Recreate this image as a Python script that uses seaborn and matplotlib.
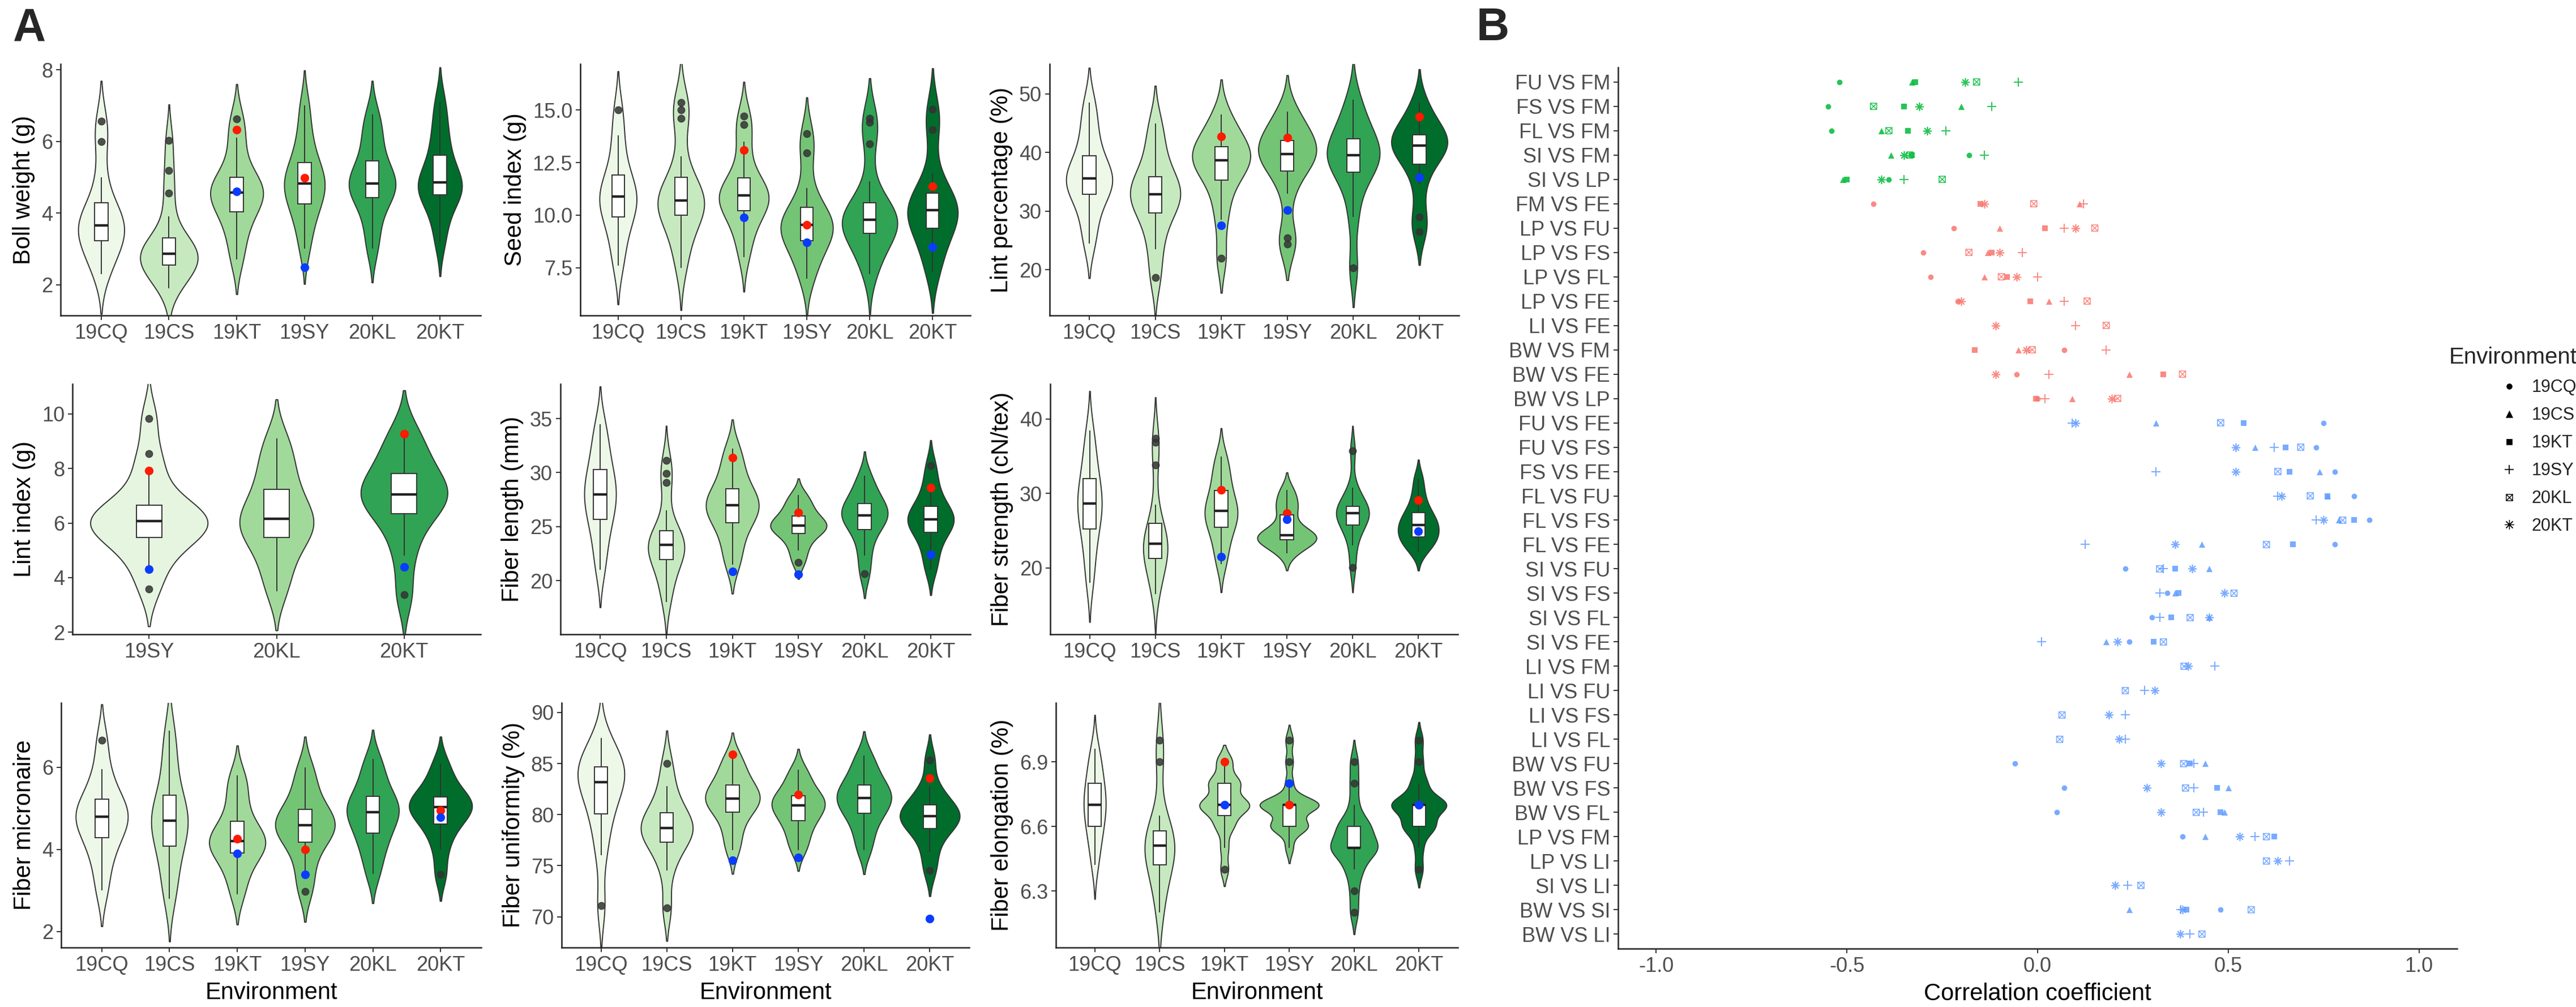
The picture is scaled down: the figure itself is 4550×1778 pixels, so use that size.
import warnings
warnings.filterwarnings("ignore")
import numpy as np
import pandas as pd
import matplotlib
matplotlib.use("Agg")
import matplotlib.pyplot as plt
import seaborn as sns
from matplotlib.path import Path
from matplotlib.markers import MarkerStyle
from matplotlib.lines import Line2D

nan = np.nan
ENVS = ["19CQ", "19CS", "19KT", "19SY", "20KL", "20KT"]
LI_ENVS = ["19SY", "20KL", "20KT"]
GREENS6 = ["#EDF8E9", "#C7E9C0", "#A1D99B", "#74C476", "#31A354", "#006D2C"]
GREENS3 = ["#E5F5E0", "#A1D99B", "#31A354"]

# ---------------- Panel A data ----------------
boll_weight = {
    "19CQ": [2.3, 2.7, 3.0, 3.23, 3.4, 3.55, 3.65, 3.85, 4.05, 4.29, 5.0, 6.0, 6.57],
    "19CS": [1.9, 2.1, 2.3, 2.45, 2.55, 2.65, 2.75, 2.82, 2.87, 2.95, 3.05, 3.18, 3.31, 3.9, 4.55, 5.18, 6.03],
    "19KT": [2.7, 3.3, 3.75, 4.04, 4.3, 4.45, 4.57, 4.7, 4.85, 4.99, 5.5, 6.1, 6.63],
    "19SY": [3.0, 3.6, 4.0, 4.25, 4.5, 4.68, 4.82, 4.98, 5.18, 5.41, 5.8, 6.3, 7.0],
    "20KL": [3.0, 3.6, 4.1, 4.43, 4.6, 4.73, 4.83, 4.98, 5.2, 5.46, 5.9, 6.3, 6.75],
    "20KT": [3.2, 3.8, 4.25, 4.5, 4.62, 4.72, 4.85, 5.0, 5.25, 5.62, 6.0, 6.5, 7.1],
}
seed_index = {
    "19CQ": [7.6, 8.6, 9.4, 9.91, 10.3, 10.6, 10.88, 11.15, 11.5, 11.91, 12.8, 13.8, 15.0],
    "19CS": [7.5, 8.3, 9.0, 9.6, 10.0, 10.2, 10.4, 10.55, 10.69, 10.85, 11.05, 11.4, 11.79, 12.8, 14.6, 15.0, 15.35],
    "19KT": [8.0, 8.8, 9.4, 9.9, 10.21, 10.45, 10.62, 10.8, 10.93, 11.08, 11.25, 11.5, 11.78, 12.6, 13.5, 14.3, 14.7],
    "19SY": [7.0, 7.8, 8.4, 8.8, 9.1, 9.35, 9.55, 9.75, 10.0, 10.37, 11.3, 12.95, 13.86],
    "20KL": [7.2, 7.9, 8.4, 8.85, 9.15, 9.35, 9.5, 9.65, 9.79, 9.95, 10.15, 10.35, 10.59, 11.6, 13.4, 14.4, 14.6],
    "20KT": [7.3, 8.2, 8.9, 9.38, 9.75, 10.0, 10.24, 10.5, 10.75, 11.04, 12.0, 14.06, 15.03],
}
lint_percentage = {
    "19CQ": [24.5, 28.0, 31.0, 32.9, 34.0, 34.9, 35.6, 36.4, 37.7, 39.4, 42.0, 45.0, 48.5],
    "19CS": [18.7, 23.5, 27.0, 29.7, 31.0, 32.0, 32.9, 33.8, 34.8, 35.9, 38.5, 41.5, 45.0],
    "19KT": [22.0, 28.5, 32.5, 35.3, 37.0, 38.0, 38.7, 39.4, 40.2, 41.0, 42.5, 44.0, 46.5],
    "19SY": [24.4, 25.4, 33.0, 36.8, 38.0, 39.0, 39.7, 40.4, 41.2, 42.05, 43.5, 45.0, 47.0],
    "20KL": [20.3, 29.0, 34.0, 36.6, 37.8, 38.7, 39.5, 40.2, 41.0, 42.3, 44.0, 46.0, 49.0],
    "20KT": [26.5, 29.0, 34.5, 38.0, 39.4, 40.5, 41.2, 41.8, 42.4, 43.0, 44.2, 46.0, 48.5],
}
lint_index = {
    "19SY": [3.58, 4.3, 4.9, 5.25, 5.47, 5.7, 5.85, 5.97, 6.08, 6.2, 6.32, 6.48, 6.66, 7.2, 7.9, 8.55, 9.84],
    "20KL": [3.5, 4.3, 4.95, 5.47, 5.7, 5.92, 6.15, 6.4, 6.8, 7.23, 7.8, 8.4, 9.1],
    "20KT": [3.37, 4.8, 5.7, 6.34, 6.6, 6.85, 7.05, 7.25, 7.5, 7.82, 8.3, 8.8, 9.4],
}
fiber_length = {
    "19CQ": [21.0, 23.0, 24.6, 25.67, 26.6, 27.3, 28.0, 28.7, 29.4, 30.26, 31.5, 32.8, 34.5],
    "19CS": [18.0, 19.3, 20.4, 21.3, 21.94, 22.4, 22.8, 23.05, 23.3, 23.6, 23.9, 24.2, 24.6, 26.5, 29.1, 29.9, 31.1],
    "19KT": [21.5, 23.0, 24.4, 25.36, 26.0, 26.5, 26.97, 27.4, 27.9, 28.5, 29.6, 30.8, 32.2],
    "19SY": [21.7, 22.8, 23.6, 24.35, 24.65, 24.85, 25.07, 25.3, 25.6, 26.0, 26.6, 27.2, 27.9],
    "20KL": [20.62, 22.3, 23.7, 24.74, 25.3, 25.7, 26.04, 26.4, 26.75, 27.16, 27.8, 28.6, 29.7],
    "20KT": [21.0, 22.4, 23.6, 24.45, 25.0, 25.35, 25.65, 25.95, 26.4, 26.9, 27.8, 29.0, 30.65],
}
fiber_strength = {
    "19CQ": [18.0, 21.0, 23.3, 25.25, 26.5, 27.6, 28.65, 29.6, 30.7, 32.0, 33.8, 35.8, 38.5],
    "19CS": [16.5, 18.0, 19.3, 20.4, 21.26, 21.9, 22.5, 22.9, 23.29, 23.7, 24.2, 25.0, 26.0, 28.5, 33.8, 36.9, 37.4],
    "19KT": [20.5, 22.5, 24.2, 25.48, 26.3, 27.0, 27.7, 28.3, 29.2, 30.4, 31.8, 33.3, 35.0],
    "19SY": [22.0, 22.9, 23.5, 23.8, 24.0, 24.2, 24.4, 24.7, 25.5, 27.16, 28.2, 29.2, 30.5],
    "20KL": [20.1, 23.0, 24.8, 25.76, 26.4, 26.9, 27.4, 27.7, 28.0, 28.3, 29.3, 30.8, 35.7],
    "20KT": [22.2, 23.0, 23.7, 24.2, 24.6, 25.2, 25.76, 26.2, 26.8, 27.44, 28.5, 30.0, 32.0],
}
fiber_micronaire = {
    "19CQ": [3.0, 3.6, 4.0, 4.29, 4.5, 4.65, 4.8, 4.93, 5.05, 5.22, 5.55, 5.95, 6.66],
    "19CS": [2.8, 3.3, 3.75, 4.08, 4.35, 4.55, 4.7, 4.88, 5.07, 5.32, 5.8, 6.3, 6.9],
    "19KT": [2.9, 3.35, 3.65, 3.91, 4.03, 4.12, 4.21, 4.32, 4.48, 4.69, 5.05, 5.45, 5.8],
    "19SY": [2.98, 3.45, 3.9, 4.18, 4.35, 4.48, 4.59, 4.7, 4.82, 4.97, 5.25, 5.6, 6.0],
    "20KL": [3.4, 3.85, 4.15, 4.39, 4.6, 4.78, 4.91, 5.02, 5.14, 5.29, 5.55, 5.85, 6.2],
    "20KT": [3.39, 4.0, 4.4, 4.62, 4.8, 4.93, 5.03, 5.1, 5.18, 5.28, 5.48, 5.75, 6.1],
}
fiber_uniformity = {
    "19CQ": [71.06, 76.0, 78.5, 80.05, 81.3, 82.4, 83.16, 83.7, 84.2, 84.65, 85.3, 86.2, 87.5],
    "19CS": [70.85, 74.5, 76.3, 77.3, 77.8, 78.3, 78.68, 79.1, 79.6, 80.16, 81.3, 82.8, 85.0],
    "19KT": [76.5, 78.0, 79.3, 80.26, 80.8, 81.2, 81.58, 81.95, 82.4, 82.9, 83.7, 84.6, 85.7],
    "19SY": [76.5, 77.6, 78.6, 79.4, 79.9, 80.4, 80.9, 81.2, 81.5, 81.85, 82.6, 83.4, 84.4],
    "20KL": [76.5, 78.0, 79.2, 80.1, 80.6, 81.1, 81.6, 82.0, 82.4, 82.9, 83.7, 84.6, 85.8],
    "20KT": [74.5, 76.3, 77.8, 78.63, 79.1, 79.5, 79.84, 80.15, 80.5, 80.96, 81.8, 82.8, 85.35],
}
fiber_elongation = {
    "19CQ": [6.42, 6.5, 6.56, 6.6, 6.64, 6.68, 6.7, 6.73, 6.77, 6.8, 6.85, 6.9, 6.96],
    "19CS": [6.2, 6.3, 6.38, 6.42, 6.46, 6.49, 6.51, 6.53, 6.56, 6.58, 6.65, 6.9, 7.0],
    "19KT": [6.4, 6.5, 6.6, 6.6, 6.65, 6.7, 6.7, 6.7, 6.7, 6.7, 6.7, 6.8, 6.8, 6.8, 6.8, 6.9, 6.9],
    "19SY": [6.5, 6.6, 6.6, 6.6, 6.6, 6.6, 6.7, 6.7, 6.7, 6.7, 6.7, 6.7, 6.7, 6.7, 6.8, 6.9, 7.0],
    "20KL": [6.2, 6.3, 6.4, 6.4, 6.5, 6.5, 6.5, 6.5, 6.5, 6.5, 6.6, 6.6, 6.6, 6.6, 6.7, 6.8, 6.9],
    "20KT": [6.4, 6.5, 6.6, 6.6, 6.6, 6.6, 6.7, 6.7, 6.7, 6.7, 6.7, 6.7, 6.7, 6.8, 6.8, 6.9, 7.0],
}

# highlighted genotypes (red / blue points), one value per environment
red_bw = [nan, nan, 6.33, 4.98, nan, nan]
blue_bw = [nan, nan, 4.6, 2.48, nan, nan]
red_si = [nan, nan, 13.1, 9.54, nan, 11.38]
blue_si = [nan, nan, 9.9, 8.72, nan, 8.49]
red_lp = [nan, nan, 42.7, 42.5, nan, 46.1]
blue_lp = [nan, nan, 27.6, 30.2, nan, 35.8]
red_li = [7.93, nan, 9.27]
blue_li = [4.3, nan, 4.39]
red_fl = [nan, nan, 31.4, 26.3, nan, 28.6]
blue_fl = [nan, nan, 20.87, 20.6, nan, 22.4]
red_fs = [nan, nan, 30.45, 27.4, nan, 29.1]
blue_fs = [nan, nan, 21.5, 26.5, nan, 24.9]
red_fm = [nan, nan, 4.26, 3.99, nan, 4.95]
blue_fm = [nan, nan, 3.9, 3.39, nan, 4.79]
red_fu = [nan, nan, 85.9, 81.96, nan, 83.55]
blue_fu = [nan, nan, 75.5, 75.8, nan, 69.8]
red_fe = [nan, nan, 6.9, 6.7, nan, 6.7]
blue_fe = [nan, nan, 6.7, 6.8, nan, 6.7]

# ---------------- Panel B data ----------------
PAIRS = ["FU VS FM", "FS VS FM", "FL VS FM", "SI VS FM", "SI VS LP", "FM VS FE",
         "LP VS FU", "LP VS FS", "LP VS FL", "LP VS FE", "LI VS FE", "BW VS FM",
         "BW VS FE", "BW VS LP", "FU VS FE", "FU VS FS", "FS VS FE", "FL VS FU",
         "FL VS FS", "FL VS FE", "SI VS FU", "SI VS FS", "SI VS FL", "SI VS FE",
         "LI VS FM", "LI VS FU", "LI VS FS", "LI VS FL", "BW VS FU", "BW VS FS",
         "BW VS FL", "LP VS FM", "LP VS LI", "SI VS LI", "BW VS SI", "BW VS LI"]
PAIR_GROUP = ["g"] * 5 + ["r"] * 9 + ["b"] * 22
r_19CQ = [-0.52, -0.55, -0.54, -0.18, -0.39, -0.43, -0.22, -0.30, -0.28, -0.21, nan, 0.07,
          -0.055, 0.00, 0.75, 0.73, 0.78, 0.83, 0.87, 0.78, 0.23, 0.34, 0.30, 0.24,
          nan, nan, nan, nan, -0.06, 0.07, 0.05, 0.38, nan, nan, 0.48, nan]
r_19CS = [-0.33, -0.20, -0.41, -0.385, -0.51, 0.11, -0.10, -0.13, -0.14, 0.03, nan, -0.05,
          0.24, 0.09, 0.31, 0.57, 0.74, 0.76, 0.79, 0.43, 0.45, 0.36, 0.45, 0.18,
          nan, nan, nan, nan, 0.44, 0.50, 0.49, 0.44, nan, nan, 0.24, nan]
r_19KT = [-0.32, -0.35, -0.34, -0.33, -0.50, -0.15, 0.02, -0.12, -0.08, -0.02, nan, -0.165,
          0.33, -0.005, 0.54, 0.65, 0.66, 0.76, 0.83, 0.67, 0.36, 0.37, 0.35, 0.305,
          nan, nan, nan, nan, 0.40, 0.47, 0.48, 0.62, nan, nan, 0.39, nan]
r_19SY = [-0.05, -0.12, -0.24, -0.14, -0.35, 0.12, 0.07, -0.04, 0.00, 0.07, 0.10, 0.18,
          0.03, 0.02, 0.09, 0.62, 0.31, 0.63, 0.73, 0.125, 0.33, 0.32, 0.32, 0.01,
          0.465, 0.28, 0.23, 0.23, 0.41, 0.41, 0.435, 0.57, 0.66, 0.236, 0.375, 0.40]
r_20KL = [-0.16, -0.43, -0.39, -0.335, -0.25, -0.01, 0.15, -0.18, -0.095, 0.13, 0.18, -0.014,
          0.38, 0.21, 0.48, 0.69, 0.63, 0.715, 0.80, 0.60, 0.32, 0.515, 0.40, 0.33,
          0.384, 0.23, 0.064, 0.058, 0.383, 0.388, 0.416, 0.60, 0.60, 0.271, 0.56, 0.431]
r_20KT = [-0.19, -0.31, -0.29, -0.35, -0.41, -0.14, 0.10, -0.10, -0.055, -0.20, -0.11, -0.03,
          -0.11, 0.195, 0.10, 0.52, 0.52, 0.64, 0.75, 0.36, 0.405, 0.49, 0.45, 0.21,
          0.395, 0.307, 0.187, 0.214, 0.324, 0.286, 0.324, 0.53, 0.63, 0.203, 0.38, 0.374]
GROUP_COLORS = {"g": "#00BA38", "r": "#F8766D", "b": "#619CFF"}

# ---------------- style ----------------
sns.set_theme(style="white")
plt.rcParams["font.family"] = ["Liberation Sans", "DejaVu Sans"]
plt.rcParams["axes.unicode_minus"] = False

W, H = 4550, 1778
fig = plt.figure(figsize=(W / 100, H / 100), dpi=100)
fig.patch.set_facecolor("white")

TICK_FS = 26
TITLE_FS = 30
LINE = "#333333"


def rect(l, t, r, b):
    return [l / W, 1 - b / H, (r - l) / W, (b - t) / H]


def style_axis(ax):
    sns.despine(ax=ax)
    for s in ("left", "bottom"):
        ax.spines[s].set_linewidth(1.8)
        ax.spines[s].set_color("#222222")
    ax.tick_params(axis="both", which="major", length=6, width=1.4, color=LINE,
                   labelsize=TICK_FS, labelcolor="#4D4D4D", pad=4, bottom=True, left=True)
    ax.grid(False)


def draw_panel(ax, data, envs, colors, widths, bws, red, blue, yticks, ylim, ylabel, fmt, xlabel):
    for env, col, w, bw in zip(envs, colors, widths, bws):
        vals = data[env]
        sns.violinplot(x=[env] * len(vals), y=vals, order=envs, color=col, saturation=1,
                       width=w, density_norm="width", bw_method=bw, cut=2, inner=None,
                       linewidth=1.4, linecolor=LINE, ax=ax)
    df = pd.DataFrame({"env": [e for e in envs for _ in data[e]],
                       "val": [v for e in envs for v in data[e]]})
    sns.boxplot(data=df, x="env", y="val", order=envs, width=0.2, color="white",
                saturation=1, linecolor=LINE, linewidth=1.4, fliersize=9, showcaps=False,
                flierprops=dict(marker="o", markerfacecolor="#333333",
                                markeredgecolor="#333333", alpha=0.85),
                medianprops=dict(linewidth=3.2, color="#222222"), ax=ax)
    for vals, col in ((red, "#FF1A00"), (blue, "#0A3CFF")):
        d = pd.DataFrame({"env": envs, "val": vals}).dropna()
        sns.stripplot(data=d, x="env", y="val", order=envs, jitter=False, color=col,
                      size=11, linewidth=0, ax=ax, zorder=6)
    ax.set_xlim(-0.6, len(envs) - 0.4)
    ax.set_ylim(*ylim)
    ax.set_yticks(yticks)
    ax.set_yticklabels([fmt.format(v) for v in yticks])
    ax.set_ylabel(ylabel, fontsize=TITLE_FS, color="black", labelpad=8)
    ax.set_xlabel(xlabel, fontsize=TITLE_FS, color="black", labelpad=8)
    style_axis(ax)


bw6 = [0.45] * 6
bw3 = [0.45] * 3
panels = [
    (rect(107, 113, 849, 557), boll_weight, ENVS, GREENS6, [0.68, 0.85, 0.78, 0.6, 0.69, 0.65], bw6,
     red_bw, blue_bw, [2, 4, 6, 8], (1.14, 8.16), "Boll weight (g)", "{:.0f}", ""),
    (rect(1025, 113, 1714, 557), seed_index, ENVS, GREENS6, [0.59, 0.74, 0.79, 0.83, 0.88, 0.8], bw6,
     red_si, blue_si, [7.5, 10.0, 12.5, 15.0], (5.24, 17.18), "Seed index (g)", "{:.1f}", ""),
    (rect(1854, 113, 2577, 557), lint_percentage, ENVS, GREENS6, [0.7, 0.76, 0.88, 0.88, 0.8, 0.85], bw6,
     red_lp, blue_lp, [20, 30, 40, 50], (12.2, 55.1), "Lint percentage (%)", "{:.0f}", ""),
    (rect(128, 678, 849, 1120), lint_index, LI_ENVS, GREENS3, [0.92, 0.58, 0.68], bw3,
     red_li, blue_li, [2, 4, 6, 8, 10], (1.92, 11.1), "Lint index (g)", "{:.0f}", ""),
    (rect(990, 678, 1714, 1120), fiber_length, ENVS, GREENS6, [0.48, 0.55, 0.8, 0.85, 0.7, 0.7], bw6,
     red_fl, blue_fl, [20, 25, 30, 35], (15.03, 38.2), "Fiber length (mm)", "{:.0f}", ""),
    (rect(1855, 678, 2575, 1120), fiber_strength, ENVS, GREENS6, [0.37, 0.37, 0.5, 0.9, 0.5, 0.62], bw6,
     red_fs, blue_fs, [20, 30, 40], (11.1, 44.7), "Fiber strength (cN/tex)", "{:.0f}", ""),
    (rect(108, 1241, 850, 1673), fiber_micronaire, ENVS, GREENS6, [0.77, 0.54, 0.83, 0.88, 0.77, 0.93], bw6,
     red_fm, blue_fm, [2, 4, 6], (1.61, 7.57), "Fiber micronaire", "{:.0f}", "Environment"),
    (rect(992, 1241, 1712, 1673), fiber_uniformity, ENVS, GREENS6, [0.71, 0.79, 0.83, 0.81, 0.83, 0.91], bw6,
     red_fu, blue_fu, [70, 75, 80, 85, 90], (66.98, 90.94), "Fiber uniformity (%)", "{:.0f}", "Environment"),
    (rect(1865, 1241, 2575, 1673), fiber_elongation, ENVS, GREENS6, [0.34, 0.46, 0.77, 0.91, 0.73, 0.85],
     [0.5, 0.5, 0.3, 0.3, 0.3, 0.3],
     red_fe, blue_fe, [6.3, 6.6, 6.9], (6.037, 7.174), "Fiber elongation (%)", "{:.1f}", "Environment"),
]

for (r, data, envs, cols, widths, bws, red, blue, yt, yl, ylab, fmt, xlab) in panels:
    ax = fig.add_axes(r)
    draw_panel(ax, data, envs, cols, widths, bws, red, blue, yt, yl, ylab, fmt, xlab)

# ---------------- Panel B ----------------
boxtimes = MarkerStyle(Path([(-1, -1), (1, -1), (1, 1), (-1, 1), (-1, -1),
                             (-1, -1), (1, 1), (-1, 1), (1, -1)],
                            [Path.MOVETO, Path.LINETO, Path.LINETO, Path.LINETO, Path.CLOSEPOLY,
                             Path.MOVETO, Path.LINETO, Path.MOVETO, Path.LINETO]),
                       fillstyle="none")
asterisk = MarkerStyle((8, 2, 0))
ENV_MARKERS = {"19CQ": ("o", 7, 0), "19CS": ("^", 8, 0), "19KT": ("s", 7, 0),
               "19SY": ("+", 12, 1.4), "20KL": (boxtimes, 8, 1.1), "20KT": (asterisk, 10, 1.2)}
env_values = {"19CQ": r_19CQ, "19CS": r_19CS, "19KT": r_19KT,
              "19SY": r_19SY, "20KL": r_20KL, "20KT": r_20KT}

axb = fig.add_axes(rect(2858, 119, 4340, 1675))
for env in ENVS:
    m, ms, lw = ENV_MARKERS[env]
    dfe = pd.DataFrame({"pair": PAIRS, "r": env_values[env], "grp": PAIR_GROUP}).dropna()
    for g, col in GROUP_COLORS.items():
        sub = dfe[dfe["grp"] == g]
        if len(sub) == 0:
            continue
        sns.stripplot(data=sub, x="r", y="pair", order=PAIRS, orient="h", jitter=False,
                      color=col, marker=m, size=ms, linewidth=lw, alpha=0.85, ax=axb)
axb.set_xlim(-1.1, 1.1)
axb.set_ylim(len(PAIRS) - 0.4, -0.6)
axb.set_xticks([-1.0, -0.5, 0.0, 0.5, 1.0])
axb.set_xticklabels(["-1.0", "-0.5", "0.0", "0.5", "1.0"])
axb.set_ylabel("")
axb.set_xlabel("Correlation coefficient", fontsize=TITLE_FS, color="black", labelpad=8)
style_axis(axb)

LEG_SIZES = {"19CQ": (7, 0.5), "19CS": (8, 0.5), "19KT": (7, 0.5),
             "19SY": (12, 1.3), "20KL": (8, 1.0), "20KT": (12, 0.9)}
handles = []
for env in ENVS:
    m = ENV_MARKERS[env][0]
    ms, mew = LEG_SIZES[env]
    handles.append(Line2D([], [], marker=m, linestyle="none", color="black",
                          markersize=ms, markeredgewidth=mew))
leg = fig.legend(handles, ENVS, title="Environment", loc="upper left",
                 bbox_to_anchor=(4298 / W, 1 - 585 / H), frameon=False, fontsize=22,
                 title_fontsize=29, alignment="right", handlelength=1.0,
                 handletextpad=0.8, labelspacing=0.62)
for t in leg.get_texts():
    t.set_color("#222222")

fig.text(23 / W, 1 - 12 / H, "A", fontsize=58, fontweight="bold", va="top", ha="left")
fig.text(2608 / W, 1 - 12 / H, "B", fontsize=58, fontweight="bold", va="top", ha="left")

fig.savefig("out.png", dpi=100, facecolor="white")
